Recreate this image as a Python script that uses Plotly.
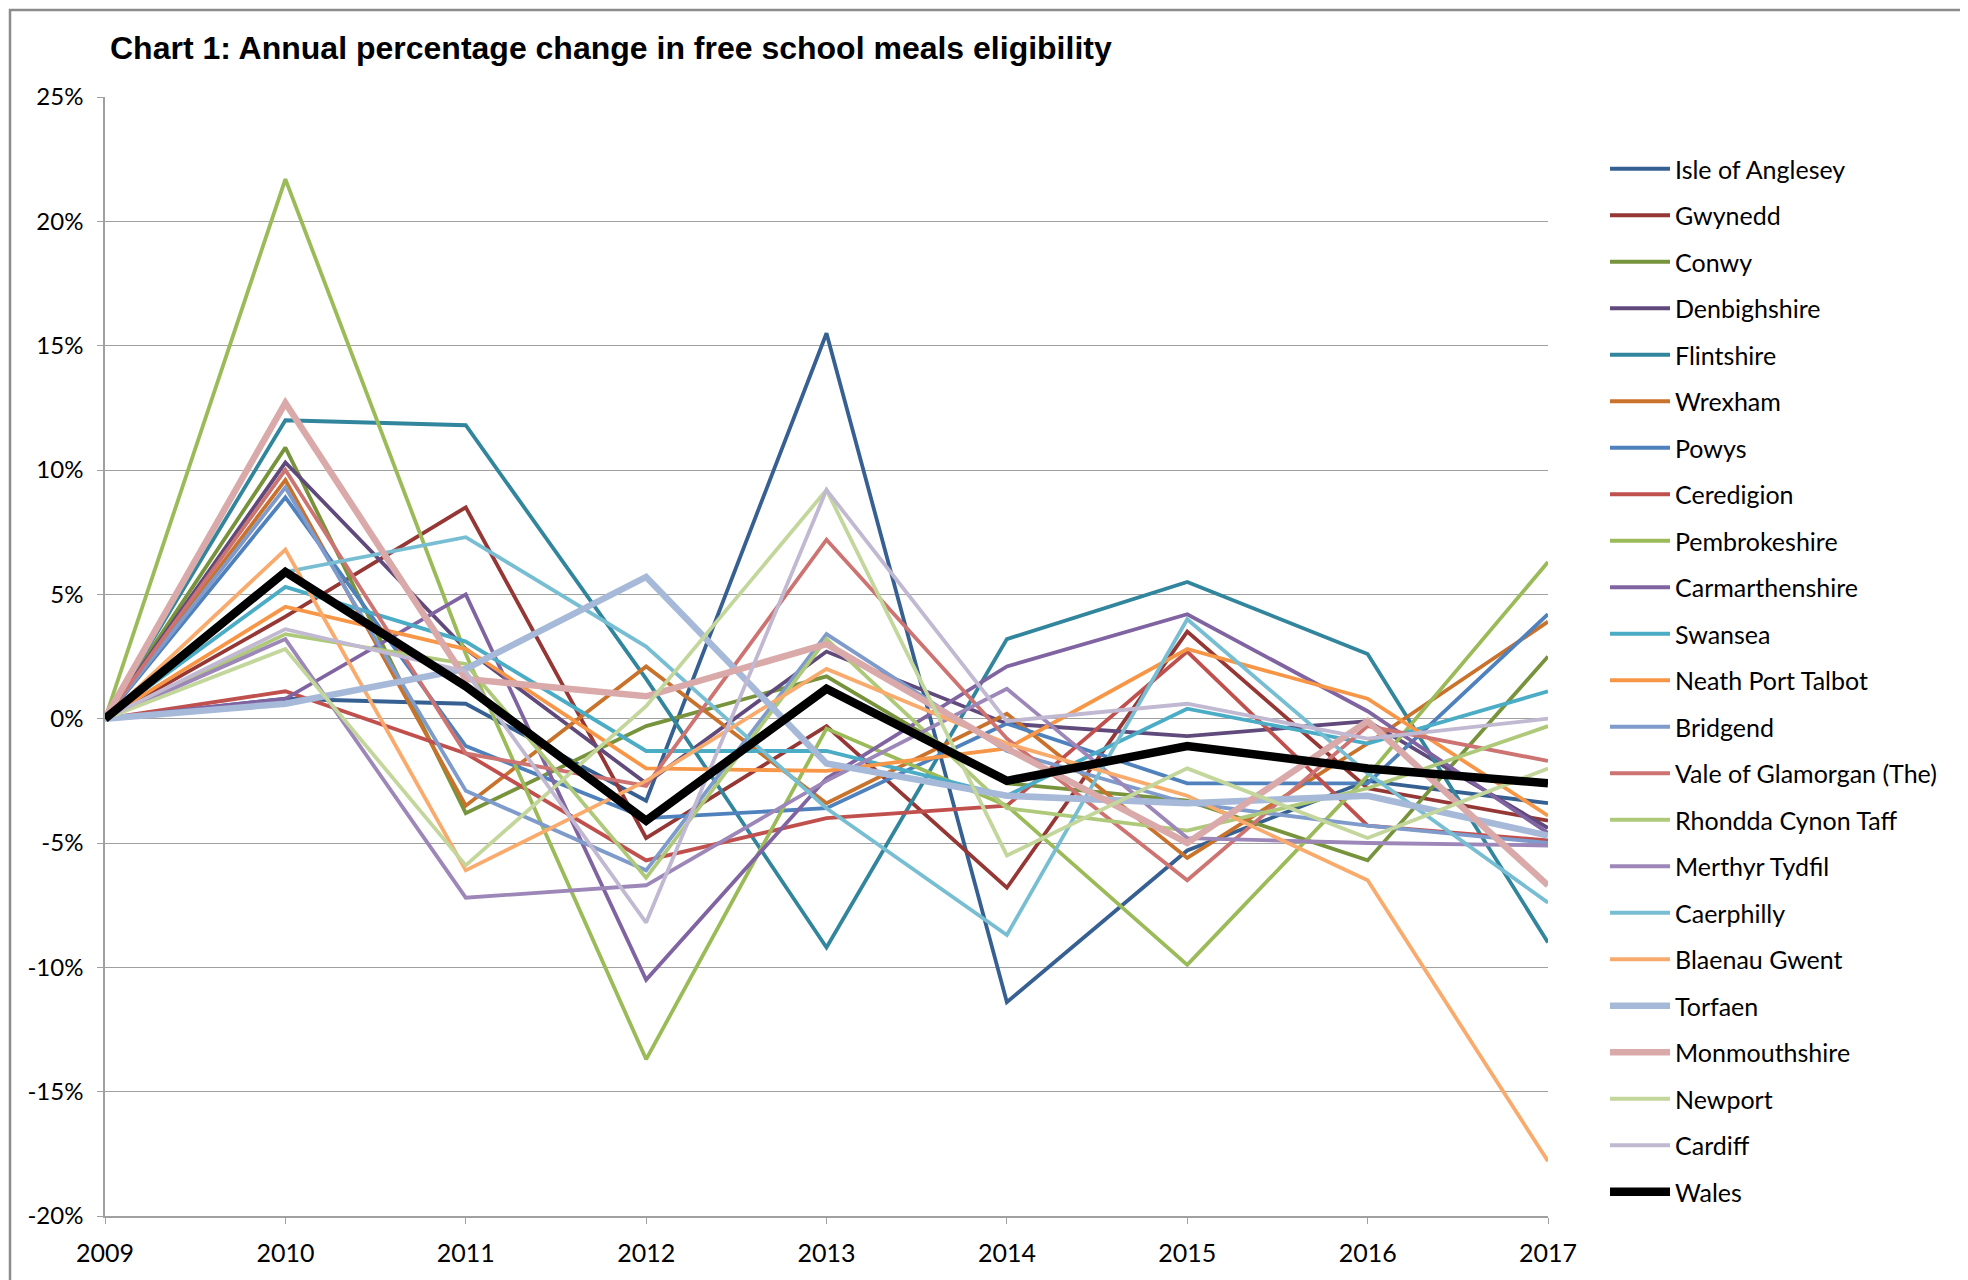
import plotly.graph_objects as go

years = [2009, 2010, 2011, 2012, 2013, 2014, 2015, 2016, 2017]

# annual % change in free school meals eligibility (percent)
isle_of_anglesey   = [0, 0.8, 0.6, -3.3, 15.5, -11.4, -5.3, -2.5, -3.4]
gwynedd            = [0, 4.1, 8.5, -4.8, -0.3, -6.8, 3.5, -2.8, -4.1]
conwy              = [0, 10.9, -3.8, -0.3, 1.7, -2.6, -3.3, -5.7, 2.5]
denbighshire       = [0, 10.3, 2.8, -2.6, 2.7, -0.2, -0.7, -0.1, -4.4]
flintshire         = [0, 12.0, 11.8, 1.6, -9.2, 3.2, 5.5, 2.6, -9.0]
wrexham            = [0, 9.6, -3.5, 2.1, -3.4, 0.2, -5.6, -1.0, 3.9]
powys              = [0, 8.9, -1.1, -4.0, -3.6, -0.2, -2.6, -2.6, 4.2]
ceredigion         = [0, 1.1, -1.4, -5.7, -4.0, -3.5, 2.7, -4.3, -4.9]
pembrokeshire      = [0, 21.7, 2.6, -13.7, -0.4, -3.5, -9.9, -2.3, 6.3]
carmarthenshire    = [0, 0.8, 5.0, -10.5, -2.4, 2.1, 4.2, 0.3, -4.6]
swansea            = [0, 5.3, 3.1, -1.3, -1.3, -3.1, 0.4, -1.0, 1.1]
neath_port_talbot  = [0, 4.5, 2.8, -2.0, -2.1, -1.2, 2.8, 0.8, -3.9]
bridgend           = [0, 9.3, -2.9, -6.1, 3.4, -1.3, -3.4, -4.3, -5.0]
vale_of_glamorgan  = [0, 10.0, -1.4, -2.7, 7.2, -0.8, -6.5, -0.3, -1.7]
rhondda_cynon_taff = [0, 3.4, 2.2, -6.4, 3.2, -3.6, -4.5, -2.8, -0.3]
merthyr_tydfil     = [0, 3.2, -7.2, -6.7, -2.5, 1.2, -4.8, -5.0, -5.1]
caerphilly         = [0, 5.9, 7.3, 2.9, -3.6, -8.7, 4.0, -2.2, -7.4]
blaenau_gwent      = [0, 6.8, -6.1, -2.5, 2.0, -1.0, -3.1, -6.5, -17.8]
torfaen            = [0, 0.6, 2.0, 5.7, -1.8, -3.1, -3.4, -3.1, -4.7]
monmouthshire      = [0, 12.7, 1.6, 0.9, 3.0, -1.2, -5.0, -0.1, -6.7]
newport            = [0, 2.8, -5.9, 0.5, 9.2, -5.5, -2.0, -4.8, -2.0]
cardiff            = [0, 3.6, 1.9, -8.2, 9.2, -0.1, 0.6, -0.8, 0.0]
wales              = [0, 5.9, 1.3, -4.1, 1.2, -2.5, -1.1, -2.0, -2.6]

series = [
    ("Isle of Anglesey", isle_of_anglesey, "#376092", 3.8),
    ("Gwynedd", gwynedd, "#953735", 3.8),
    ("Conwy", conwy, "#77933C", 3.8),
    ("Denbighshire", denbighshire, "#604A7B", 3.8),
    ("Flintshire", flintshire, "#31859C", 3.8),
    ("Wrexham", wrexham, "#C8722C", 3.8),
    ("Powys", powys, "#4F81BD", 3.8),
    ("Ceredigion", ceredigion, "#C0504D", 3.8),
    ("Pembrokeshire", pembrokeshire, "#9BBB59", 3.8),
    ("Carmarthenshire", carmarthenshire, "#8064A2", 3.8),
    ("Swansea", swansea, "#4BACC6", 3.8),
    ("Neath Port Talbot", neath_port_talbot, "#F79646", 3.8),
    ("Bridgend", bridgend, "#7E9BCB", 3.8),
    ("Vale of Glamorgan (The)", vale_of_glamorgan, "#CD7371", 3.8),
    ("Rhondda Cynon Taff", rhondda_cynon_taff, "#AFC97A", 3.8),
    ("Merthyr Tydfil", merthyr_tydfil, "#9C87B8", 3.8),
    ("Caerphilly", caerphilly, "#78BED3", 3.8),
    ("Blaenau Gwent", blaenau_gwent, "#F9AB6E", 3.8),
    ("Torfaen", torfaen, "#A7B9D8", 6.5),
    ("Monmouthshire", monmouthshire, "#D9AAA9", 6.5),
    ("Newport", newport, "#C3D69B", 3.8),
    ("Cardiff", cardiff, "#C1B8D2", 3.8),
    ("Wales", wales, "#000000", 8.5),
]

y_ticks = [-0.20, -0.15, -0.10, -0.05, 0.0, 0.05, 0.10, 0.15, 0.20, 0.25]
y_tick_labels = ["-20%", "-15%", "-10%", "-5%", "0%", "5%", "10%", "15%", "20%", "25%"]

fig = go.Figure()
for i, (name, vals, color, w) in enumerate(series):
    fig.add_trace(go.Scatter(
        x=years, y=[v / 100 for v in vals], name=name, mode="lines",
        line=dict(color=color, width=w), legendgroup=f"g{i}",
    ))

OFF = 8  # page body margin
W, H = 1968, 1280
L, R, T, B = 105 - OFF, 1548 - OFF, 97 - OFF, 1216 - OFF

def px(xp):
    return (xp - OFF - L) / (R - L)

def py(yp):
    return (B - (yp - OFF)) / (B - T)

fig.update_layout(
    width=W, height=H,
    margin=dict(l=L, r=W - R, t=T, b=H - B, pad=0),
    paper_bgcolor="white", plot_bgcolor="white",
    font=dict(family="Lato, Liberation Sans, sans-serif", size=24, color="#000000"),
    title=dict(
        text="<b>Chart 1: Annual percentage change in free school meals eligibility</b>",
        x=px(110), xref="paper", xanchor="left",
        y=1 - (48 - OFF) / H, yref="container", yanchor="middle",
        font=dict(family="Liberation Sans, Arial, sans-serif", size=32, color="#000000"),
    ),
    xaxis=dict(
        range=[2009, 2017], tickvals=years, ticktext=[str(y) for y in years],
        showgrid=False, zeroline=False,
        showline=True, linecolor="#A0A0A0", linewidth=1.5,
        ticks="outside", ticklen=6, tickcolor="#A0A0A0",
        tickfont=dict(size=25), ticklabelstandoff=8,
    ),
    yaxis=dict(
        range=[-0.20, 0.25], tickvals=y_ticks, ticktext=y_tick_labels,
        showgrid=True, gridcolor="#A0A0A0", gridwidth=1.2,
        zeroline=False,
        showline=True, linecolor="#A0A0A0", linewidth=1.5,
        ticks="outside", ticklen=6, tickcolor="#A0A0A0",
        tickfont=dict(size=24), ticklabelstandoff=9,
    ),
    legend=dict(
        x=px(1605), xanchor="left", y=py(146), yanchor="top",
        font=dict(size=25, family="Lato, Liberation Sans, sans-serif"),
        tracegroupgap=11, itemwidth=60,
        bgcolor="rgba(0,0,0,0)",
    ),
    showlegend=True,
)

# outer chart border
fig.add_shape(type="rect", xref="paper", yref="paper",
              x0=px(10), x1=px(1962), y0=py(1295), y1=py(10),
              line=dict(color="#8C8C8C", width=2.5), fillcolor="rgba(0,0,0,0)",
              layer="below")

fig.write_html("out.html")
